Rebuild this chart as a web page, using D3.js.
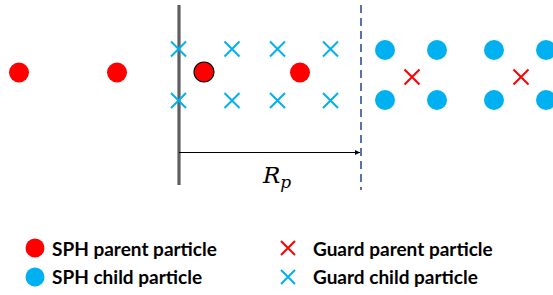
<!DOCTYPE html>
<html><head><meta charset="utf-8">
<script src="https://cdn.jsdelivr.net/npm/d3@7"></script>
<style>html,body{margin:0;padding:0;background:#fff;}</style>
</head><body>
<svg id="c" width="553" height="295"></svg>
<script>
// Data (schematic units)
const sphParentX = [1.9, 11.7, 20.4, 30.0];
const sphParentY = [7.25, 7.25, 7.2, 7.25];
const sphParentOutlined = [false, false, true, false];
const guardChildX = [17.85, 23.2, 27.75, 33.05];
const guardChildRows = [4.9, 10.05];
const sphChildX = [38.5, 43.7, 49.4, 54.6];
const sphChildRows = [5.0, 10.0];
const guardParentX = [41.2, 52.1];
const guardParentY = 7.7;
const wallX = 17.9;
const cutoffX = 36.1;
const legendLabels = ["SPH parent particle", "SPH child particle", "Guard parent particle", "Guard child particle"];

const RED = "#FF0000", BLUE = "#00B0F0";
const svg = d3.select("#c");
const x = d3.scaleLinear().domain([0, 55.3]).range([0, 553]);
const y = d3.scaleLinear().domain([0, 29.5]).range([0, 295]);

// wall
svg.append("line").attr("x1", x(wallX)).attr("x2", x(wallX)).attr("y1", y(0.5)).attr("y2", y(18.5))
  .attr("stroke", "#5f5f5f").attr("stroke-width", 3.2);
// cutoff dashed
svg.append("line").attr("x1", x(cutoffX)).attr("x2", x(cutoffX)).attr("y1", y(0.5)).attr("y2", y(19))
  .attr("stroke", "#5474ab").attr("stroke-width", 2).attr("stroke-dasharray", "8,5");

function cross(g, cx, cy, h, color, w) {
  g.append("path").attr("d", `M${cx-h},${cy-h}L${cx+h},${cy+h}M${cx-h},${cy+h}L${cx+h},${cy-h}`)
    .attr("stroke", color).attr("stroke-width", w).attr("fill", "none");
}

// guard children
const gc = svg.append("g");
guardChildRows.forEach(r => guardChildX.forEach(v => cross(gc, x(v), y(r), 7.5, BLUE, 2)));
// sph parents
svg.append("g").selectAll("circle").data(sphParentX).join("circle")
  .attr("cx", d => x(d)).attr("cy", (d, i) => y(sphParentY[i])).attr("r", 10)
  .attr("fill", RED).attr("stroke", (d, i) => sphParentOutlined[i] ? "#000" : "none").attr("stroke-width", 1.2);
// sph children
const sc = [];
sphChildRows.forEach(r => sphChildX.forEach(v => sc.push([v, r])));
svg.append("g").selectAll("circle").data(sc).join("circle")
  .attr("cx", d => x(d[0])).attr("cy", d => y(d[1])).attr("r", 10).attr("fill", BLUE);
// guard parents
const gp = svg.append("g");
guardParentX.forEach(v => cross(gp, x(v), y(guardParentY), 7.5, RED, 2));

// arrow
const defs = svg.append("defs");
defs.append("marker").attr("id", "ah").attr("viewBox", "0 0 10 10").attr("refX", 10).attr("refY", 5)
  .attr("markerWidth", 6).attr("markerHeight", 5).attr("markerUnits", "userSpaceOnUse").attr("orient", "auto")
  .append("path").attr("d", "M0,0L10,5L0,10Z").attr("fill", "#000");
svg.append("line").attr("x1", x(wallX)).attr("x2", x(cutoffX) - 1).attr("y1", y(15.25)).attr("y2", y(15.25))
  .attr("stroke", "#000").attr("stroke-width", 1.2).attr("marker-end", "url(#ah)");
const rp = svg.append("text").attr("x", 263).attr("y", 183)
  .attr("font-family", "'DejaVu Serif', serif").attr("font-style", "italic").attr("font-size", 23).attr("fill", "#000");
rp.append("tspan").text("R");
rp.append("tspan").attr("font-size", 17).attr("dy", 5).text("p");

// legend
const lg = svg.append("g").attr("font-family", "Lato, 'Open Sans', sans-serif").attr("font-weight", "bold").attr("font-size", 19).attr("fill", "#000");
lg.append("circle").attr("cx", 35).attr("cy", 248).attr("r", 9.5).attr("fill", RED);
lg.append("circle").attr("cx", 35).attr("cy", 277).attr("r", 9.5).attr("fill", BLUE);
cross(lg, 288, 248, 7, RED, 2);
cross(lg, 288, 277, 7, BLUE, 2);
[[52, 256], [52, 284], [313, 256], [313, 284]].forEach((p, i) => {
  lg.append("text").attr("x", p[0]).attr("y", p[1]).text(legendLabels[i]);
});
</script>
</body></html>
